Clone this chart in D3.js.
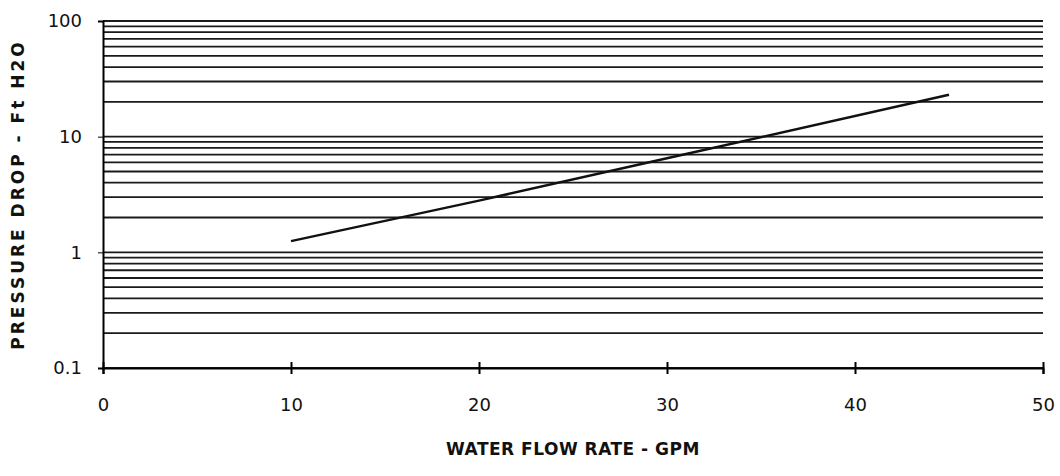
<!DOCTYPE html>
<html>
<head>
<meta charset="utf-8" />
<script src="https://cdn.jsdelivr.net/npm/d3@7"></script>
<style>
  body { margin: 0; background: #fff; }
  text { font-family: "DejaVu Sans", sans-serif; fill: #111; }
</style>
</head>
<body>
<div id="chart"></div>
<script>
// values
var flowGpm = [10, 20, 30, 45];
var dropFt = [1.25, 2.8, 6.5, 23];
var xTicks = [0, 10, 20, 30, 40, 50];
var yTicks = [0.1, 1, 10, 100];
var yTickLabels = ["0.1", "1", "10", "100"];

var W = 1060, H = 476;
var margin = { top: 21, right: 17, bottom: 108, left: 103 };
var width = W - margin.left - margin.right,
    height = H - margin.top - margin.bottom;

var svg = d3.select("#chart").append("svg")
  .attr("width", W).attr("height", H);
var g = svg.append("g")
  .attr("transform", "translate(" + margin.left + "," + margin.top + ")");

var x = d3.scaleLinear().domain([0, 50]).range([0, width]);
var y = d3.scaleLog().domain([0.1, 100]).range([height, 0]);

// horizontal grid at every log step
var grid = [];
[0.1, 1, 10].forEach(function (d) {
  for (var k = 1; k <= 9; k++) grid.push(d * k);
});
grid.push(100);

g.selectAll(".grid").data(grid).enter().append("line")
  .attr("class", "grid")
  .attr("x1", 0).attr("x2", width)
  .attr("y1", function (d) { return y(d); })
  .attr("y2", function (d) { return y(d); })
  .attr("stroke", "#1a1a1a")
  .attr("stroke-width", 1.8);

// axes
var yAxis = d3.axisLeft(y).tickValues(yTicks)
  .tickFormat(function (d, i) { return yTickLabels[i]; })
  .tickSize(5).tickPadding(16);
g.append("g").attr("class", "axis").call(yAxis)
  .call(function (s) { s.select(".domain").attr("stroke-width", 2); })
  .selectAll("text").style("font-size", "18px");

var xAxis = d3.axisBottom(x).tickValues(xTicks).tickSize(6).tickPadding(24);
var xg = g.append("g").attr("class", "axis")
  .attr("transform", "translate(0," + height + ")").call(xAxis);
xg.select(".domain").attr("stroke-width", 2);
xg.selectAll(".tick line").attr("y1", -6).attr("stroke-width", 2);
xg.selectAll("text").style("font-size", "18px");

// data line
var line = d3.line()
  .x(function (d) { return x(d[0]); })
  .y(function (d) { return y(d[1]); });
g.append("path")
  .datum(flowGpm.map(function (v, i) { return [v, dropFt[i]]; }))
  .attr("d", line)
  .attr("fill", "none")
  .attr("stroke", "#111")
  .attr("stroke-width", 2.5);

// axis titles
svg.append("text")
  .attr("x", margin.left + width / 2)
  .attr("y", 455)
  .attr("text-anchor", "middle")
  .style("font-size", "17px").style("font-weight", "bold")
  .style("letter-spacing", "0.5px")
  .text("WATER FLOW RATE - GPM");

svg.append("text")
  .attr("transform", "translate(24," + (margin.top + height / 2) + ") rotate(-90)")
  .attr("text-anchor", "middle")
  .style("font-size", "17px").style("font-weight", "bold")
  .style("letter-spacing", "3px")
  .text("PRESSURE DROP - Ft H2O");
</script>
</body>
</html>
